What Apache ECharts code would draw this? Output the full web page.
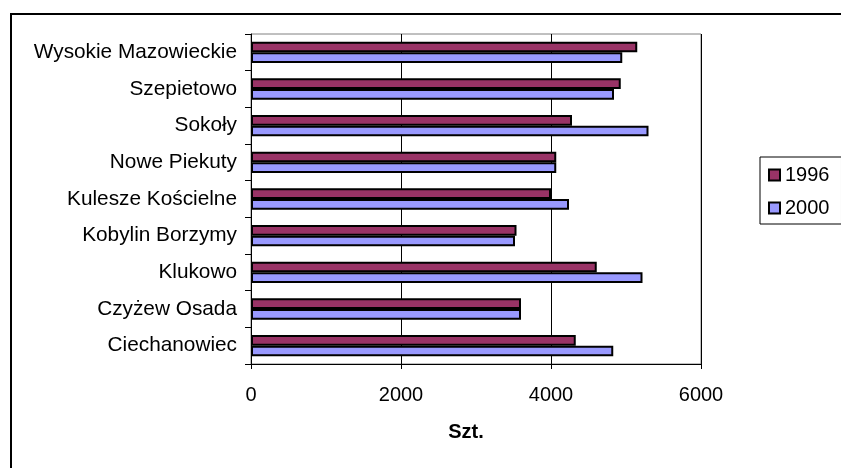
<!DOCTYPE html>
<html>
<head>
<meta charset="utf-8">
<script src="https://cdn.jsdelivr.net/npm/echarts@6/dist/echarts.min.js"></script>
<style>
html,body{margin:0;padding:0;background:#fff;}
#c{width:841px;height:468px;}
</style>
</head>
<body>
<div id="c"></div>
<script>
const categories = ['Ciechanowiec','Czyżew Osada','Klukowo','Kobylin Borzymy','Kulesze Kościelne','Nowe Piekuty','Sokoły','Szepietowo','Wysokie Mazowieckie'];
const values1996 = [4330, 3600, 4610, 3540, 4000, 4070, 4280, 4930, 5150];
const values2000 = [4830, 3600, 5220, 3520, 4240, 4070, 5300, 4840, 4950];
const xTicks = { min: 0, max: 6000, interval: 2000 };
const xName = 'Szt.';

const font = '"Liberation Sans", Arial, sans-serif';
const chart = echarts.init(document.getElementById('c'), null, { renderer: 'canvas' });
chart.setOption({
  animation: false,
  backgroundColor: '#fff',
  textStyle: { fontFamily: font, color: '#000' },
  graphic: [{
    type: 'rect', z: -10, silent: true,
    shape: { x: 11, y: 14, width: 900, height: 500 },
    style: { fill: '#fff', stroke: '#000', lineWidth: 2 }
  }],
  grid: { left: 251, right: 140, top: 34, bottom: 104, show: true, borderColor: '#808080', borderWidth: 1, backgroundColor: 'transparent' },
  legend: {
    data: ['1996', '2000'],
    orient: 'vertical',
    left: 760, top: 157,
    padding: [8, 12, 6, 8],
    itemWidth: 11, itemHeight: 11, itemGap: 13,
    borderColor: '#000', borderWidth: 1,
    icon: 'rect',
    textStyle: { fontFamily: font, fontSize: 20, color: '#000' }
  },
  xAxis: {
    type: 'value', min: xTicks.min, max: xTicks.max, interval: xTicks.interval,
    name: xName, nameLocation: 'middle', nameGap: 58,
    nameTextStyle: { fontFamily: font, fontSize: 20, fontWeight: 'bold', color: '#000', padding: [0, 20, 0, 0] },
    axisLine: { show: true, lineStyle: { color: '#000', width: 1 } },
    axisTick: { show: true, inside: false, length: 5, lineStyle: { color: '#000' } },
    axisLabel: { fontFamily: font, fontSize: 20, color: '#000', margin: 21, formatter: v => String(v) },
    splitLine: { show: true, lineStyle: { color: '#000', width: 1 } }
  },
  yAxis: {
    type: 'category', data: categories,
    axisLine: { show: true, lineStyle: { color: '#000', width: 1 } },
    axisTick: { show: true, inside: false, length: 6, lineStyle: { color: '#000' } },
    axisLabel: { fontFamily: font, fontSize: 20.8, color: '#000', margin: 14 },
    splitLine: { show: false }
  },
  series: [
    {
      name: '1996', type: 'bar', data: values1996,
      barGap: '0%', barCategoryGap: '42%',
      itemStyle: { color: '#993366', borderColor: '#000', borderWidth: 2 }
    },
    {
      name: '2000', type: 'bar', data: values2000,
      barGap: '0%', barCategoryGap: '42%',
      itemStyle: { color: '#9999FF', borderColor: '#000', borderWidth: 2 }
    }
  ]
});
</script>
</body>
</html>
